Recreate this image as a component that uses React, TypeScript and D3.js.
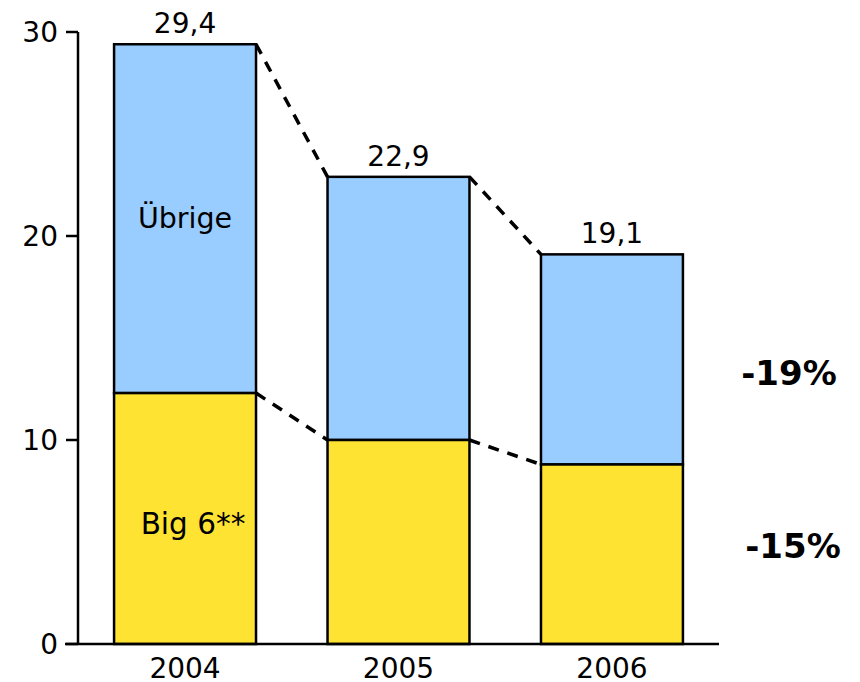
import React from "react";
import * as d3 from "d3";

const years = ["2004", "2005", "2006"];
const big6 = [12.3, 10.0, 8.8];
const totals = [29.4, 22.9, 19.1];
const totalLabels = ["29,4", "22,9", "19,1"];
const yTicks = [0, 10, 20, 30];
const changeLabels = ["-19%", "-15%"];
const changeValues = [13.3, 4.8];

const W = 860;
const H = 682;
const FONT = "'DejaVu Sans', Verdana, sans-serif";
const BLUE = "#99CCFF";
const YELLOW = "#FFE333";

export default function App() {
  const x = d3.scaleBand<string>().domain(years).range([78, 719]).paddingInner(0.335).paddingOuter(0.169);
  const y = d3.scaleLinear().domain([0, 30]).range([644, 32]);
  const bw = x.bandwidth();

  const dashSegs = (vals: number[]) =>
    years.slice(0, -1).map((yr, i) => ({
      x1: (x(yr) as number) + bw,
      y1: y(vals[i]),
      x2: x(years[i + 1]) as number,
      y2: y(vals[i + 1]),
    }));

  return (
    <svg width={W} height={H} style={{ position: "absolute", left: 0, top: 0, background: "#fff" }}>
      {years.map((yr, i) => (
        <g key={yr}>
          <rect x={x(yr)} y={y(totals[i])} width={bw} height={y(big6[i]) - y(totals[i])} fill={BLUE} stroke="#000" strokeWidth={2.5} />
          <rect x={x(yr)} y={y(big6[i])} width={bw} height={y(0) - y(big6[i])} fill={YELLOW} stroke="#000" strokeWidth={2.5} />
          <text x={(x(yr) as number) + bw / 2} y={y(totals[i]) - 11} textAnchor="middle" fontFamily={FONT} fontSize={28}>
            {totalLabels[i]}
          </text>
          <text x={(x(yr) as number) + bw / 2} y={y(0) + 34} textAnchor="middle" fontFamily={FONT} fontSize={28}>
            {yr}
          </text>
        </g>
      ))}
      {[...dashSegs(totals), ...dashSegs(big6)].map((s, i) => (
        <line key={i} {...s} stroke="#000" strokeWidth={3.5} strokeDasharray="11 9" />
      ))}
      <line x1={78} y1={y(30)} x2={78} y2={y(0)} stroke="#000" strokeWidth={2.5} />
      <line x1={65} y1={y(0)} x2={719} y2={y(0)} stroke="#000" strokeWidth={2.5} />
      {yTicks.map((t) => (
        <g key={t}>
          <line x1={66} y1={y(t)} x2={78} y2={y(t)} stroke="#000" strokeWidth={2.5} />
          <text x={58} y={y(t)} dy="0.36em" textAnchor="end" fontFamily={FONT} fontSize={28}>
            {t}
          </text>
        </g>
      ))}
      <text x={(x("2004") as number) + bw / 2} y={y(20.9)} dy="0.36em" textAnchor="middle" fontFamily={FONT} fontSize={28.5}>
        Übrige
      </text>
      <text x={(x("2004") as number) + bw / 2 + 8} y={y(5.9)} dy="0.36em" textAnchor="middle" fontFamily={FONT} fontSize={29.5}>
        Big 6**
      </text>
      {changeLabels.map((l, i) => (
        <text key={l} x={789 + i * 4} y={y(changeValues[i])} dy="0.36em" textAnchor="middle" fontFamily={FONT} fontSize={34} fontWeight="bold">
          {l}
        </text>
      ))}
    </svg>
  );
}
